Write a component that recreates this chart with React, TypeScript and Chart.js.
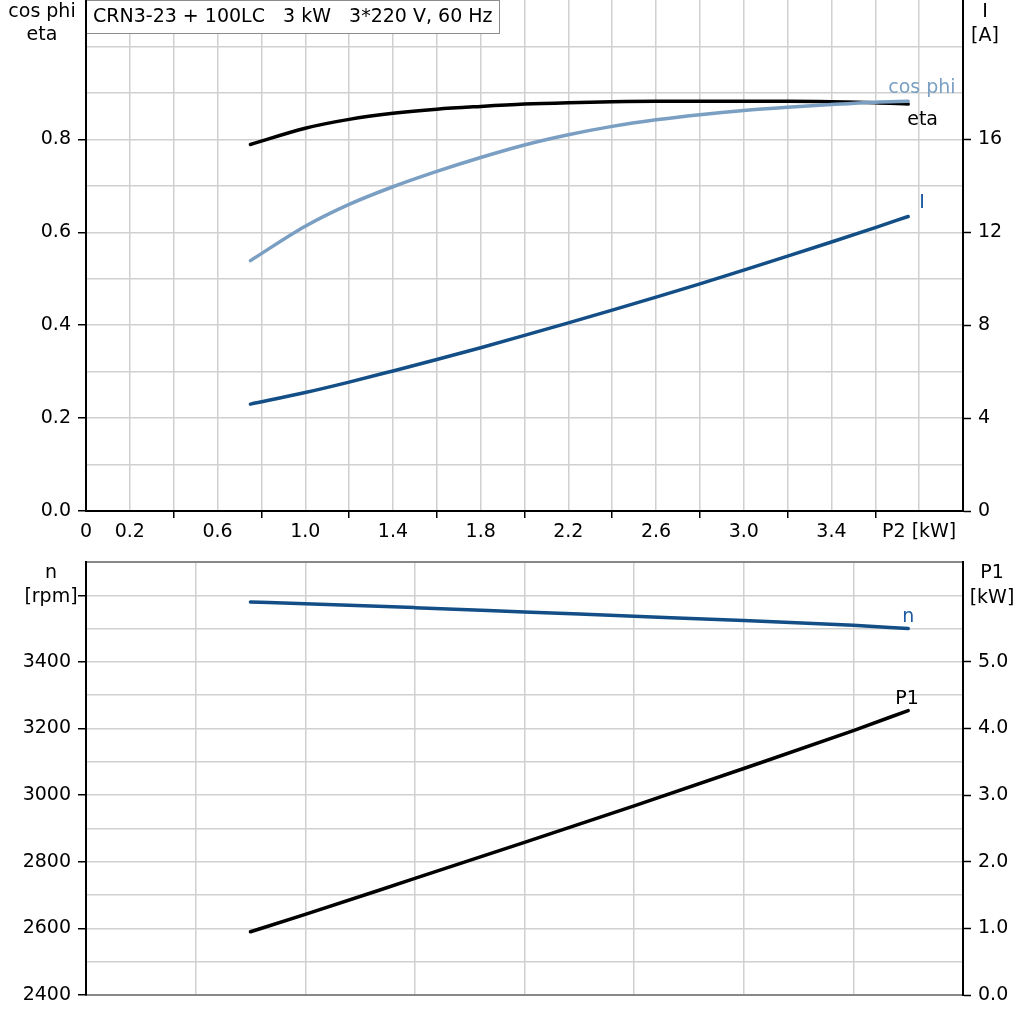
import React, { useEffect, useRef } from 'react';
import { Chart, registerables } from 'chart.js';

Chart.register(...registerables);

const FONT = "'DejaVu Sans', 'Liberation Sans', sans-serif";
const FS = 19;
const GRID = '#d0d0d0';
const GRID_W = 1.5;

// ---- data ----
const titleText = 'CRN3-23 + 100LC   3 kW   3*220 V, 60 Hz';
const p2Top = [0.75, 1.0, 1.2, 1.4, 1.6, 1.8, 2.0, 2.2, 2.4, 2.6, 2.8, 3.0, 3.2, 3.4, 3.6, 3.75];
const etaValues = [0.789, 0.824, 0.843, 0.856, 0.865, 0.871, 0.876, 0.879, 0.881, 0.882, 0.882, 0.882, 0.882, 0.881, 0.879, 0.876];
const cosPhiValues = [0.539, 0.613, 0.660, 0.698, 0.731, 0.761, 0.788, 0.810, 0.828, 0.842, 0.853, 0.862, 0.869, 0.875, 0.880, 0.882];
const currentValues = [4.6, 5.1, 5.55, 6.03, 6.52, 7.03, 7.56, 8.1, 8.65, 9.21, 9.78, 10.37, 10.97, 11.58, 12.2, 12.68];

const p2Bottom = [0.75, 1.0, 1.5, 2.0, 2.5, 3.0, 3.5, 3.75];
const speedValues = [3580, 3575, 3563, 3550, 3537, 3524, 3510, 3500];
const p1Values = [0.95, 1.21, 1.75, 2.29, 2.84, 3.4, 3.97, 4.27];

const COLOR_ETA = '#000000';
const COLOR_COS = '#7a9fc3';
const COLOR_I = '#134f86';
const COLOR_N = '#134f86';
const COLOR_P1 = '#000000';

const pts = (xs: number[], ys: number[]) => xs.map((x, i) => ({ x, y: ys[i] }));

const font = { family: FONT, size: FS };
const noPad = (s: any) => {
  s.paddingTop = 0;
  s.paddingBottom = 0;
  s.paddingLeft = 0;
  s.paddingRight = 0;
};

type CurveLabel = { text: string; color: string; ds: number; dx: number; dy: number };

function labelPlugin(labels: CurveLabel[], extra: (ctx: CanvasRenderingContext2D, chart: any) => void) {
  return {
    id: 'labels',
    afterDraw(chart: any) {
      const ctx = chart.ctx as CanvasRenderingContext2D;
      ctx.save();
      ctx.font = `${FS}px ${FONT}`;
      ctx.textBaseline = 'alphabetic';
      ctx.textAlign = 'left';
      labels.forEach((l) => {
        const meta = chart.getDatasetMeta(l.ds);
        const last = meta.data[meta.data.length - 1];
        ctx.fillStyle = l.color;
        ctx.fillText(l.text, last.x + l.dx, last.y + l.dy);
      });
      extra(ctx, chart);
      ctx.restore();
    },
  };
}

const lineStyle = {
  borderWidth: 3.5,
  pointRadius: 0,
  fill: false,
  cubicInterpolationMode: 'monotone' as const,
  borderCapStyle: 'round' as const,
};

function TopChart() {
  const ref = useRef<HTMLCanvasElement>(null);
  useEffect(() => {
    const plugin = labelPlugin(
      [
        { text: 'cos phi', color: COLOR_COS, ds: 0, dx: -20, dy: -8 },
        { text: 'eta', color: '#000', ds: 1, dx: -1, dy: 21 },
        { text: 'I', color: '#1d5aa3', ds: 2, dx: 11, dy: -8 },
      ],
      (ctx, chart) => {
        const a = chart.chartArea;
        // title box
        ctx.fillStyle = '#fff';
        ctx.fillRect(a.left, 0, 414, 34);
        ctx.strokeStyle = '#8c8c8c';
        ctx.lineWidth = 1;
        ctx.strokeRect(a.left + 0.5, 0.5, 413, 33);
        ctx.fillStyle = '#000';
        ctx.textAlign = 'left';
        ctx.fillText(titleText, a.left + 7, 22);
        ctx.strokeStyle = '#000';
        ctx.lineWidth = 2;
        ctx.beginPath();
        ctx.moveTo(a.left, 0);
        ctx.lineTo(a.left, 35);
        ctx.stroke();
        // axis titles
        ctx.textAlign = 'center';
        ctx.fillText('cos phi', 42, 17);
        ctx.fillText('eta', 42, 40);
        ctx.fillText('I', 985, 17);
        ctx.fillText('[A]', 985, 41);
      }
    );
    const chart = new Chart(ref.current!, {
      type: 'line',
      data: {
        datasets: [
          { data: pts(p2Top, cosPhiValues), borderColor: COLOR_COS, yAxisID: 'y', ...lineStyle },
          { data: pts(p2Top, etaValues), borderColor: COLOR_ETA, yAxisID: 'y', ...lineStyle },
          { data: pts(p2Top, currentValues), borderColor: COLOR_I, yAxisID: 'y1', ...lineStyle },
        ],
      },
      options: {
        animation: false,
        responsive: false,
        layout: { padding: 0 },
        plugins: { legend: { display: false }, tooltip: { enabled: false } },
        scales: {
          x: {
            type: 'linear',
            min: 0,
            max: 4,
            afterFit: (s: any) => { s.height = 34; noPad(s); },
            ticks: {
              stepSize: 0.2,
              autoSkip: false,
              maxRotation: 0,
              color: '#000',
              font,
              padding: 3,
              callback: (v: any) => {
                const k = Math.round(Number(v) * 10);
                if (k === 0) return '0';
                if (k === 38) return 'P2 [kW]';
                if (k % 4 === 2 && k <= 34) return (k / 10).toFixed(1);
                return '';
              },
            },
            grid: {
              color: GRID,
              lineWidth: GRID_W,
              tickLength: 7,
              tickWidth: 1.5,
              tickColor: (c: any) => {
                const k = Math.round(c.tick.value * 10);
                return k % 4 === 0 && k > 0 && k < 40 ? '#000' : 'rgba(0,0,0,0)';
              },
            },
            border: { color: '#000', width: 2 },
          },
          y: {
            position: 'left',
            min: 0,
            max: 1.1,
            afterFit: (s: any) => { s.width = 86; noPad(s); },
            ticks: {
              stepSize: 0.1,
              autoSkip: false,
              color: '#000',
              font,
              padding: 7,
              callback: (v: any) => {
                const k = Math.round(Number(v) * 10);
                return k % 2 === 0 && k <= 8 ? (k / 10).toFixed(1) : '';
              },
            },
            grid: {
              color: (c: any) => (Math.round(c.tick.value * 10) === 11 ? 'rgba(0,0,0,0)' : GRID),
              lineWidth: GRID_W,
              tickLength: 8,
              tickWidth: 1.5,
              tickColor: (c: any) => {
                const k = Math.round(c.tick.value * 10);
                return k % 2 === 0 && k <= 8 ? '#000' : 'rgba(0,0,0,0)';
              },
            },
            border: { color: '#000', width: 2 },
          },
          y1: {
            position: 'right',
            min: 0,
            max: 22,
            afterFit: (s: any) => { s.width = 61; noPad(s); },
            ticks: {
              stepSize: 2,
              autoSkip: false,
              color: '#000',
              font,
              padding: 7,
              callback: (v: any) => {
                const n = Number(v);
                return n % 4 === 0 && n <= 16 ? String(n) : '';
              },
            },
            grid: {
              drawOnChartArea: false,
              tickLength: 8,
              tickWidth: 1.5,
              tickColor: (c: any) => {
                const n = c.tick.value;
                return n % 4 === 0 && n <= 16 ? '#000' : 'rgba(0,0,0,0)';
              },
            },
            border: { color: '#000', width: 2 },
          },
        },
      } as any,
      plugins: [plugin],
    });
    return () => chart.destroy();
  }, []);
  return <canvas ref={ref} width={1024} height={545} style={{ display: 'block' }} />;
}

function BottomChart() {
  const ref = useRef<HTMLCanvasElement>(null);
  useEffect(() => {
    const plugin = labelPlugin(
      [
        { text: 'n', color: '#1d5aa3', ds: 0, dx: -6, dy: -7 },
        { text: 'P1', color: '#000', ds: 1, dx: -13, dy: -7 },
      ],
      (ctx) => {
        ctx.fillStyle = '#000';
        ctx.textAlign = 'center';
        ctx.fillText('n', 51, 578 - 545);
        ctx.fillText('[rpm]', 51, 602 - 545);
        ctx.fillText('P1', 992, 578 - 545);
        ctx.fillText('[kW]', 992, 603 - 545);
      }
    );
    const chart = new Chart(ref.current!, {
      type: 'line',
      data: {
        datasets: [
          { data: pts(p2Bottom, speedValues), borderColor: COLOR_N, yAxisID: 'y', ...lineStyle },
          { data: pts(p2Bottom, p1Values), borderColor: COLOR_P1, yAxisID: 'y1', ...lineStyle },
        ],
      },
      options: {
        animation: false,
        responsive: false,
        layout: { padding: { top: 17, left: 0, right: 0, bottom: 0 } },
        plugins: { legend: { display: false }, tooltip: { enabled: false } },
        scales: {
          x: {
            type: 'linear',
            min: 0,
            max: 4,
            afterFit: (s: any) => { s.height = 29; noPad(s); },
            ticks: { stepSize: 0.5, display: false },
            grid: { color: GRID, lineWidth: GRID_W, drawTicks: false },
            border: { color: '#888', width: 2 },
          },
          y: {
            position: 'left',
            min: 2400,
            max: 3700,
            afterFit: (s: any) => { s.width = 86; noPad(s); },
            ticks: {
              stepSize: 100,
              autoSkip: false,
              color: '#000',
              font,
              padding: 7,
              callback: (v: any) => {
                const n = Number(v);
                return n % 200 === 0 && n <= 3400 ? String(n) : '';
              },
            },
            grid: {
              color: (c: any) => (c.tick.value === 3700 ? '#888' : GRID),
              lineWidth: (c: any) => (c.tick.value === 3700 ? 2 : GRID_W),
              tickLength: 8,
              tickWidth: 1.5,
              tickColor: (c: any) => {
                const n = c.tick.value;
                return n % 200 === 0 && n <= 3600 ? '#000' : 'rgba(0,0,0,0)';
              },
            },
            border: { color: '#000', width: 2 },
          },
          y1: {
            position: 'right',
            min: 0,
            max: 6.5,
            afterFit: (s: any) => { s.width = 61; noPad(s); },
            ticks: {
              stepSize: 1,
              autoSkip: false,
              color: '#000',
              font,
              padding: 7,
              callback: (v: any) => {
                const n = Number(v);
                return Number.isInteger(n) && n <= 5 ? n.toFixed(1) : '';
              },
            },
            grid: {
              drawOnChartArea: false,
              tickLength: 8,
              tickWidth: 1.5,
              tickColor: (c: any) => {
                const n = c.tick.value;
                return Number.isInteger(n) && n <= 5 ? '#000' : 'rgba(0,0,0,0)';
              },
            },
            border: { color: '#000', width: 2 },
          },
        },
      } as any,
      plugins: [plugin],
    });
    return () => chart.destroy();
  }, []);
  return <canvas ref={ref} width={1024} height={479} style={{ display: 'block' }} />;
}

export default function App() {
  return (
    <div style={{ position: 'absolute', left: 0, top: 0, width: 1024, height: 1024, background: '#fff' }}>
      <TopChart />
      <BottomChart />
    </div>
  );
}
